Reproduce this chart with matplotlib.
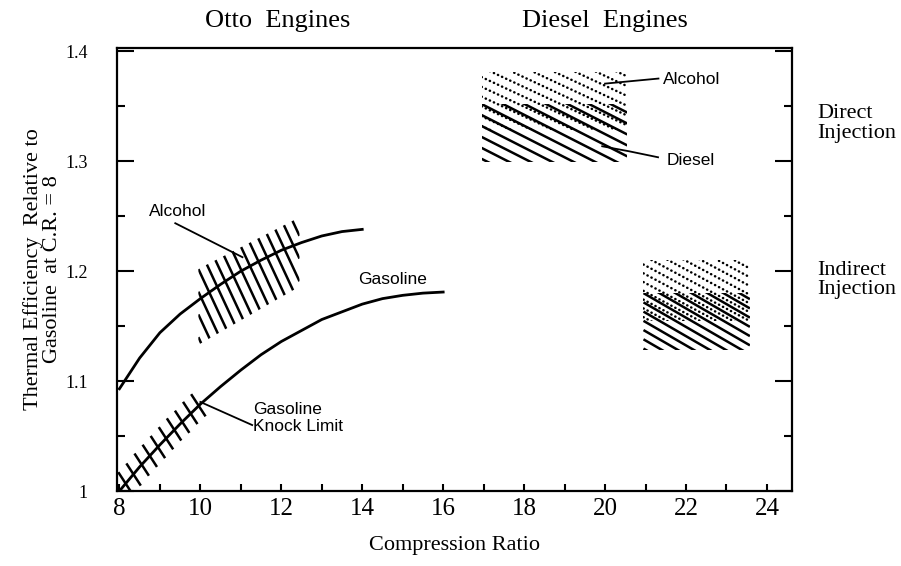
import numpy as np
import matplotlib
matplotlib.use('Agg')
import matplotlib.pyplot as plt
from matplotlib.patches import Polygon
from matplotlib.ticker import MultipleLocator
from matplotlib.transforms import blended_transform_factory

# Otto engines, efficiency curves
cr_alcohol = [8, 8.5, 9, 9.5, 10, 10.5, 11, 11.5, 12, 12.5, 13, 13.5, 14]
eff_alcohol = [1.093, 1.121, 1.144, 1.161, 1.175, 1.188, 1.200, 1.210,
               1.219, 1.226, 1.232, 1.236, 1.238]
cr_gasoline = [8, 8.5, 9, 9.5, 10, 10.5, 11, 11.5, 12, 12.5, 13, 13.5,
               14, 14.5, 15, 15.5, 16]
eff_gasoline = [1.000, 1.022, 1.042, 1.061, 1.079, 1.095, 1.110, 1.124,
                1.136, 1.146, 1.156, 1.163, 1.170, 1.175, 1.178, 1.180, 1.181]

# gasoline knock limit marks
knock_cr = [8.15, 8.35, 8.55, 8.75, 8.95, 9.15, 9.35, 9.55, 9.75, 9.95]
knock_eff = [1.007, 1.015, 1.024, 1.032, 1.040, 1.048, 1.056, 1.063, 1.071, 1.078]

# alcohol band, Otto (bounds at start and end of band)
otto_alc_cr = [9.95, 12.45]
otto_alc_low = [1.133, 1.186]
otto_alc_high = [1.202, 1.249]

# Diesel engines (low, high efficiency)
direct_cr = [16.95, 20.55]
direct_diesel = [1.299, 1.352]
direct_alcohol = [1.328, 1.381]
indirect_cr = [20.95, 23.58]
indirect_diesel = [1.128, 1.180]
indirect_alcohol = [1.155, 1.210]

xticks = [8, 10, 12, 14, 16, 18, 20, 22, 24]
yticks = [1.0, 1.1, 1.2, 1.3, 1.4]
ytick_labels = ['1', '1.1', '1.2', '1.3', '1.4']

SERIF = 'Liberation Serif'
SANS = 'Liberation Sans'


def hatch(ax, xr, lo, hi, angle, step, phase=0.0, **kw):
    # parallel lines at a screen angle, clipped to the band
    x0, x1 = xr
    verts = [(x0, lo[0]), (x1, lo[1]), (x1, hi[1]), (x0, hi[0])]
    clip = Polygon(verts, closed=True, facecolor='none', edgecolor='none')
    ax.add_patch(clip)
    xl, yl = ax.get_xlim(), ax.get_ylim()
    sx = ax.bbox.width / (xl[1] - xl[0])
    sy = ax.bbox.height / (yl[1] - yl[0])
    t = np.tan(np.radians(angle))
    cs = [sy * y + t * sx * x for x, y in verts]
    dc = step * t
    c_ref = sy * hi[0] + t * sx * x0
    k0 = int(np.floor((min(cs) - c_ref) / dc)) - 1
    k1 = int(np.ceil((max(cs) - c_ref) / dc)) + 1
    for k in range(k0, k1 + 1):
        c = c_ref + (k + phase) * dc
        ys = [(c - t * sx * x) / sy for x in (x0, x1)]
        ln, = ax.plot([x0, x1], ys, color='k', **kw)
        ln.set_clip_path(clip)


fig = plt.figure(figsize=(9.01, 5.66), dpi=100)
ax = fig.add_axes([117 / 901, 75 / 566, 675 / 901, 443 / 566])
ax.set_xlim(7.94, 24.62)
ax.set_ylim(1.0, 1.403)

solid = dict(lw=1.8, solid_capstyle='butt')
dotted = dict(lw=1.8, linestyle=(0, (0.1, 1.7)), dash_capstyle='round')

# curves
ax.plot(cr_alcohol, eff_alcohol, color='k', lw=2.0)
ax.plot(cr_gasoline, eff_gasoline, color='k', lw=2.0)

# knock limit marks, fixed screen length and angle
sx = ax.bbox.width / (24.62 - 7.94)
sy = ax.bbox.height / (1.403 - 1.0)
L, a = 12.0, np.radians(-57)
for x, y in zip(knock_cr, knock_eff):
    dx, dy = L * np.cos(a) / sx, L * np.sin(a) / sy
    ax.plot([x - dx, x + dx], [y - dy, y + dy], color='k', lw=1.8)

# hatched bands
hatch(ax, otto_alc_cr, otto_alc_low, otto_alc_high, 65, 10.6, **solid)
hatch(ax, direct_cr, [direct_diesel[0]] * 2, [direct_diesel[1]] * 2, 27, 21.5, **solid)
hatch(ax, direct_cr, [direct_alcohol[0]] * 2, [direct_alcohol[1]] * 2, 25, 21.0, 0.5, **dotted)
hatch(ax, indirect_cr, [indirect_diesel[0]] * 2, [indirect_diesel[1]] * 2, 30, 16.0, **solid)
hatch(ax, indirect_cr, [indirect_alcohol[0]] * 2, [indirect_alcohol[1]] * 2, 28, 16.5, 0.5, **dotted)

# leader lines and labels
lk = dict(color='k', lw=1.3)
ax.plot([9.38, 11.04], [1.2436, 1.2127], **lk)
ax.plot([10.0, 11.28], [1.081, 1.060], **lk)
ax.plot([20.0, 21.32], [1.3706, 1.3752], **lk)
ax.plot([19.93, 20.6, 21.31], [1.3136, 1.309, 1.3036], **lk)

tk = dict(family=SANS, fontsize=12.5, color='k')
ax.text(8.72, 1.250, 'Alcohol', ha='left', va='baseline', **tk)
ax.text(13.90, 1.188, 'Gasoline', ha='left', va='baseline', **tk)
ax.text(11.31, 1.081, 'Gasoline\nKnock Limit', ha='left', va='top', **tk)
ax.text(21.43, 1.370, 'Alcohol', ha='left', va='baseline', **tk)
ax.text(21.53, 1.2964, 'Diesel', ha='left', va='baseline', **tk)

# headings
ax.text(11.9, 1.4225, 'Otto  Engines', ha='center', va='baseline',
        family=SERIF, fontsize=19)
ax.text(20.0, 1.4225, 'Diesel  Engines', ha='center', va='baseline',
        family=SERIF, fontsize=19)
tr = blended_transform_factory(ax.transAxes, ax.transData)
ax.text(1.038, 1.334, 'Direct\nInjection', transform=tr, ha='left', va='center',
        family=SERIF, fontsize=16, linespacing=1.05)
ax.text(1.038, 1.192, 'Indirect\nInjection', transform=tr, ha='left', va='center',
        family=SERIF, fontsize=16, linespacing=1.05)

# axes
ax.set_xticks(xticks)
ax.xaxis.set_minor_locator(MultipleLocator(1))
ax.set_yticks(yticks)
ax.set_yticklabels(ytick_labels)
ax.yaxis.set_minor_locator(MultipleLocator(0.05))
for s in ax.spines.values():
    s.set_linewidth(1.6)
ax.tick_params(axis='x', which='both', direction='in', length=5, width=1.5,
               top=False, labelsize=18, pad=5)
ax.tick_params(axis='y', which='major', direction='in', length=12, width=1.5,
               left=True, right=True, labelsize=13, pad=21)
ax.tick_params(axis='y', which='minor', direction='in', length=6, width=1.5,
               left=True, right=True)
for lab in ax.get_xticklabels() + ax.get_yticklabels():
    lab.set_family(SERIF)

ax.set_xlabel('Compression Ratio', family=SERIF, fontsize=16, va='top')
ax.xaxis.set_label_coords(0.5, -0.102)
ax.set_ylabel('Thermal Efficiency  Relative to\nGasoline  at C.R. = 8',
              family=SERIF, fontsize=16, linespacing=1.0)
ax.yaxis.set_label_coords(-0.0815, 0.5)

fig.savefig('out.png', dpi=100)
